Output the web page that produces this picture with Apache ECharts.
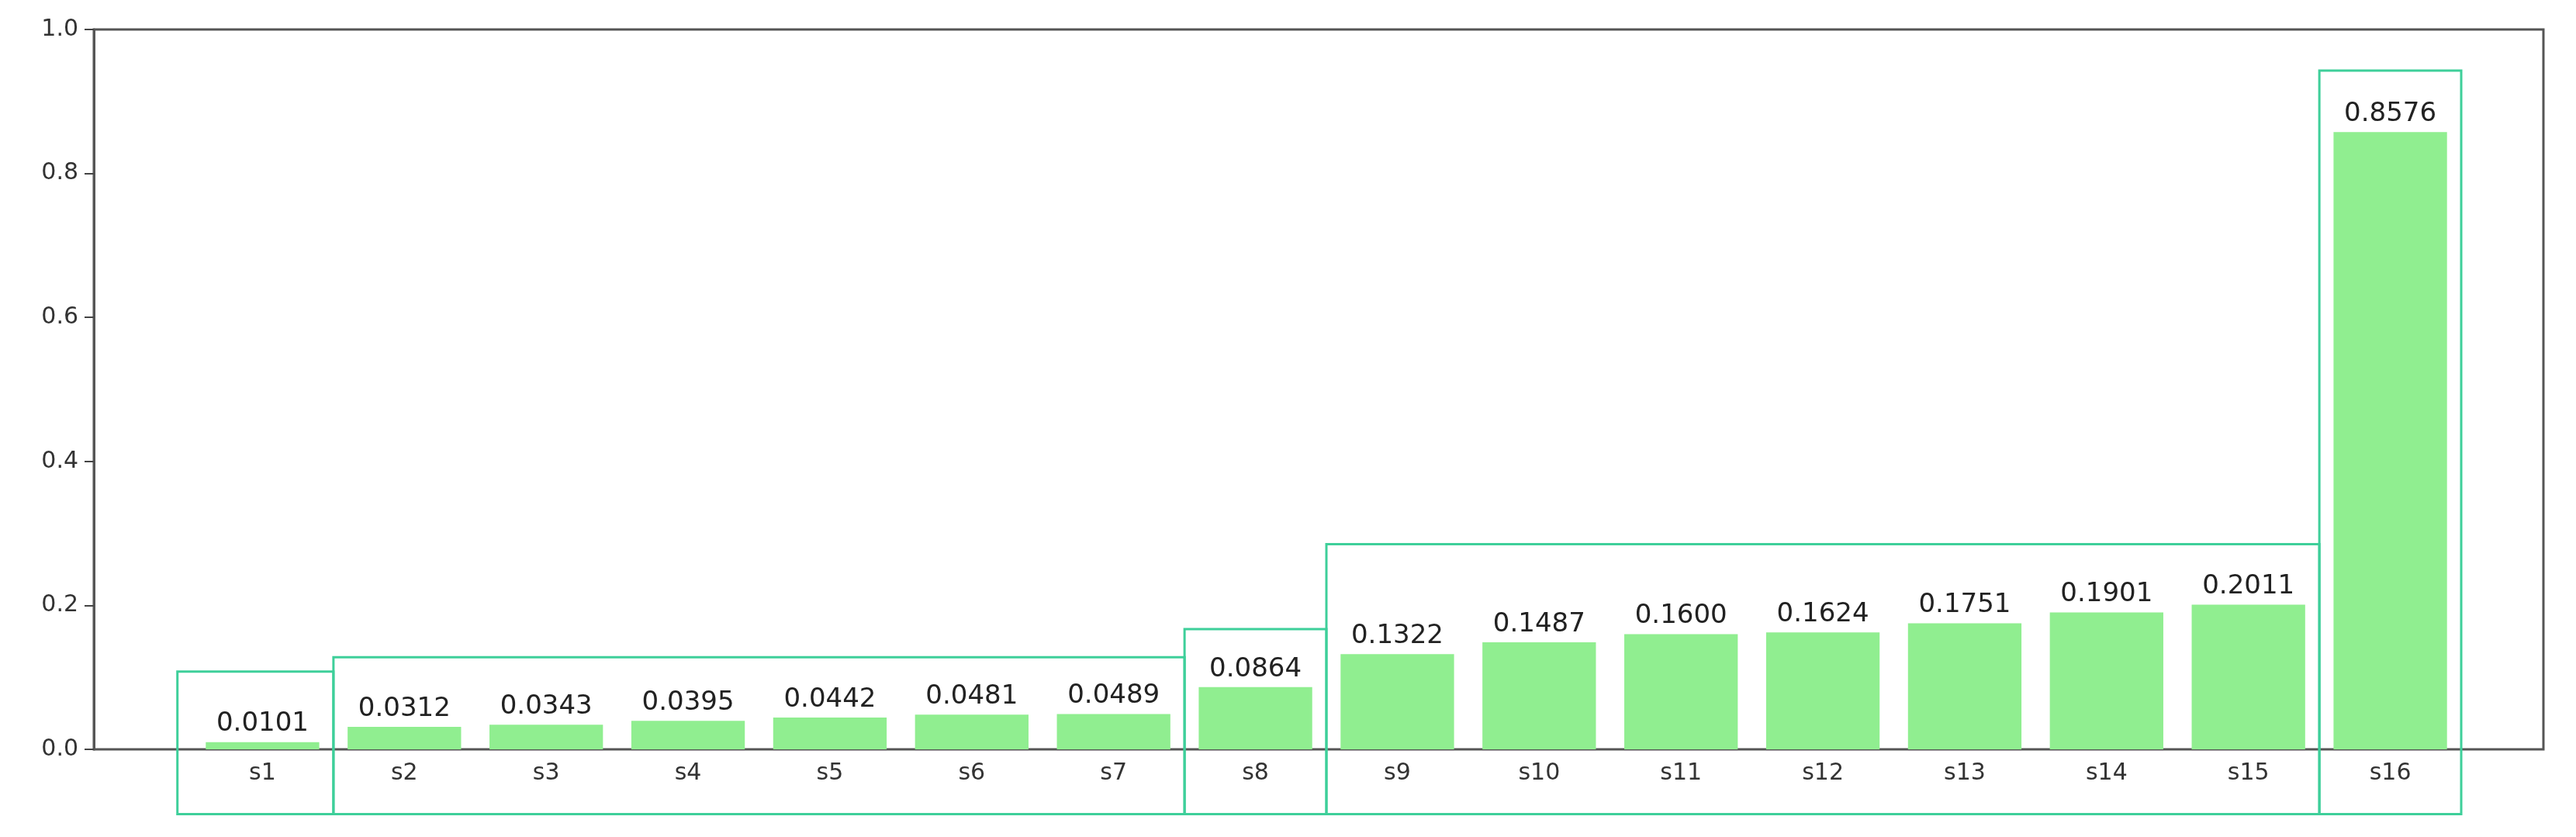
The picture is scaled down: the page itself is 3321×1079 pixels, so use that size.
<!DOCTYPE html>
<html>
<head>
<meta charset="utf-8">
<script src="https://cdn.jsdelivr.net/npm/echarts@6/dist/echarts.min.js"></script>
<style>html,body{margin:0;padding:0;background:#fff}#main{width:3321px;height:1079px}</style>
</head>
<body>
<div id="main"></div>
<script>
var names = ['s1','s2','s3','s4','s5','s6','s7','s8','s9','s10','s11','s12','s13','s14','s15','s16']
var values = [0.0101,0.0312,0.0343,0.0395,0.0442,0.0481,0.0489,0.0864,0.1322,0.1487,0.1600,0.1624,0.1751,0.1901,0.2011,0.8576]
// group boxes, in category units (s1 = 0)
var boxStart = [-0.6, 0.5, 6.5, 7.5, 14.5]
var boxEnd = [0.5, 6.5, 7.5, 14.5, 15.5]
var boxTop = [0.108, 0.128, 0.167, 0.285, 0.943]
var boxBottom = -0.09
var yTicks = [0, 0.2, 0.4, 0.6, 0.8, 1.0]

var chart = echarts.init(document.getElementById('main'))
var font = 'DejaVu Sans'
var boxData = boxStart.map(function (s, i) { return [s, boxEnd[i], boxTop[i]] })

chart.setOption({
  animation: false,
  textStyle: {fontFamily: font},
  grid: [
    {left: 121, right: 42, top: 38, bottom: 113, show: true, borderColor: '#555', borderWidth: 3},
    {left: 247, right: 148, top: 38, bottom: 113}
  ],
  xAxis: [
    {gridIndex: 0, type: 'value', min: 0, max: 1, show: false},
    {gridIndex: 1, type: 'category', data: names, boundaryGap: true,
      axisLine: {show: false},
      axisTick: {alignWithLabel: true, length: 9, lineStyle: {color: '#444', width: 2}},
      axisLabel: {color: '#333', fontSize: 30, margin: 16, fontFamily: font}},
    {gridIndex: 1, type: 'value', min: -0.5, max: 15.5, show: false}
  ],
  yAxis: [
    {gridIndex: 0, type: 'value', min: 0, max: 1, interval: 0.2,
      axisLine: {show: true, lineStyle: {color: '#555', width: 3}},
      axisTick: {show: true, length: 12, lineStyle: {color: '#444', width: 2}},
      splitLine: {show: false},
      axisLabel: {color: '#333', fontSize: 30, margin: 20, fontFamily: font,
        formatter: function (v) { return v.toFixed(1) }}},
    {gridIndex: 1, type: 'value', min: 0, max: 1, show: false}
  ],
  series: [
    {type: 'bar', xAxisIndex: 1, yAxisIndex: 1, data: values, barWidth: '80%',
      itemStyle: {color: '#90EE90'},
      label: {show: true, position: 'top', distance: 6, color: '#222', fontSize: 34, fontFamily: font,
        formatter: function (p) { return p.value.toFixed(4) }}},
    {type: 'custom', xAxisIndex: 2, yAxisIndex: 1, clip: false, z: 5, data: boxData,
      renderItem: function (params, api) {
        var p0 = api.coord([api.value(0), api.value(2)])
        var p1 = api.coord([api.value(1), boxBottom])
        return {type: 'rect', shape: {x: p0[0], y: p0[1], width: p1[0] - p0[0], height: p1[1] - p0[1]},
          style: {fill: 'none', stroke: '#3ecf9a', lineWidth: 3}}
      }}
  ]
})
</script>
</body>
</html>
